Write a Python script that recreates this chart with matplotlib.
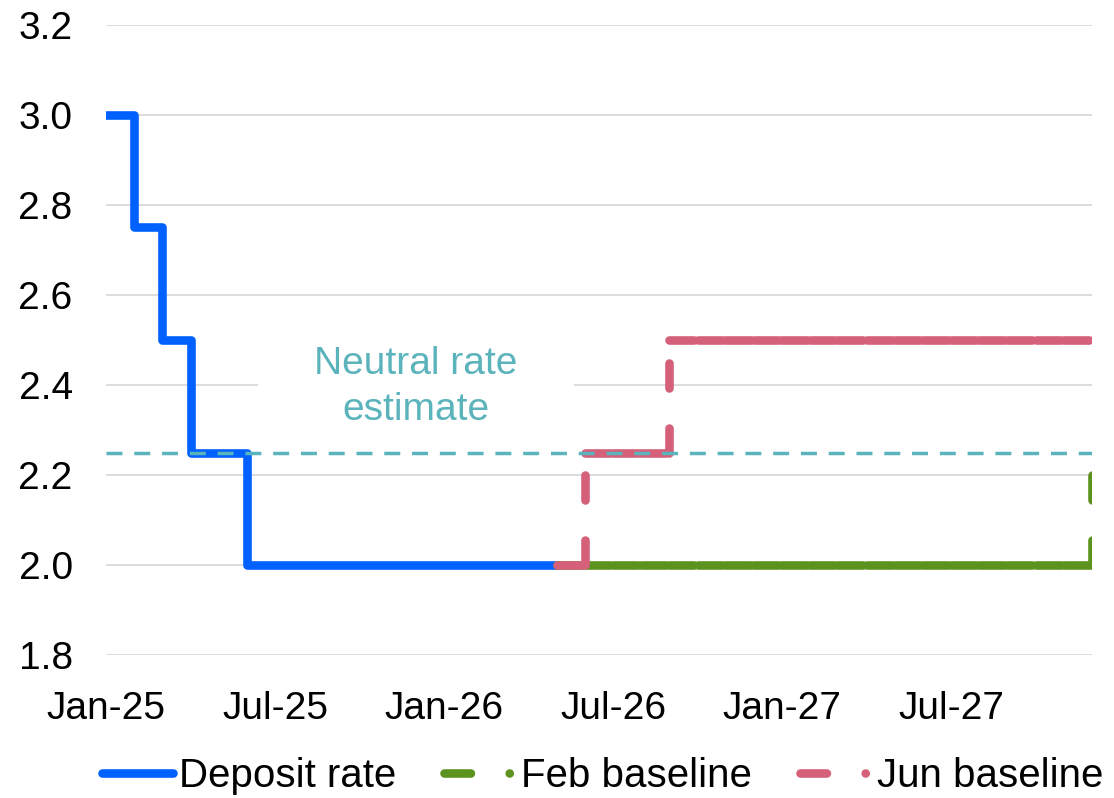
import matplotlib
matplotlib.use('Agg')
import matplotlib.pyplot as plt
from matplotlib.lines import Line2D
from matplotlib.patches import Rectangle
import numpy as np
import pandas as pd

plt.rcParams['font.family'] = ['Liberation Sans', 'DejaVu Sans']

# monthly category axis, Jan-25 .. Dec-27
months = pd.date_range('2025-01-01', periods=36, freq='MS')
month_labels = [d.strftime('%b-%y') for d in months]

# deposit rate, Jan-25 .. May-26
deposit_rate = [3.0, 2.75, 2.5, 2.25, 2.25] + [2.0] * 12
# Feb baseline, May-26 .. Dec-27
feb_start = 16
feb_baseline = [2.0] * 19 + [2.25]
# Jun baseline, May-26 .. Dec-27
jun_start = 16
jun_baseline = [2.0, 2.25, 2.25, 2.25] + [2.5] * 16

neutral_rate = 2.25
neutral_label = 'Neutral rate\nestimate'
neutral_label_pos = (11, 2.395)

yticks = [1.8, 2.0, 2.2, 2.4, 2.6, 2.8, 3.0, 3.2]

BLUE = '#0061FF'
GREEN = '#5C921E'
PINK = '#D5607A'
TEAL = '#5BB3BC'
LW = 6.2
DASH = (2.9, 4.65)
FS = 28

fig = plt.figure(figsize=(11.14, 7.98), dpi=100)
ax = fig.add_axes([0.0952, 0.179, 0.885, 0.79])

x_dep = np.arange(len(deposit_rate))
ax.plot(x_dep, deposit_rate, drawstyle='steps-post', color=BLUE, lw=LW,
        solid_capstyle='round', solid_joinstyle='round', zorder=3)


def dashed_steps(x, y, color, z):
    # excel restarts the dash pattern on every segment
    for i in range(len(x) - 1):
        ax.plot([x[i], x[i + 1]], [y[i], y[i]], color=color, lw=LW,
                dashes=DASH, dash_capstyle='round', zorder=z)
        if y[i + 1] != y[i]:
            ax.plot([x[i + 1], x[i + 1]], [y[i], y[i + 1]], color=color, lw=LW,
                    dashes=DASH, dash_capstyle='round', zorder=z)


dashed_steps(np.arange(feb_start, feb_start + len(feb_baseline)), feb_baseline, GREEN, 3)
dashed_steps(np.arange(jun_start, jun_start + len(jun_baseline)), jun_baseline, PINK, 3.5)

ax.axhline(neutral_rate, color=TEAL, lw=2.5, dashes=(4.6, 3.4), zorder=4)

# white box behind the label hides the gridline
ax.add_patch(Rectangle((neutral_label_pos[0] - 5.6, neutral_label_pos[1] - 0.05), 11.2, 0.1,
                       facecolor='white', edgecolor='none', zorder=1))
ax.text(neutral_label_pos[0], neutral_label_pos[1], neutral_label, ha='center', va='center',
        color=TEAL, fontsize=FS, linespacing=1.35, zorder=2)

ax.set_xlim(0, len(months) - 1)
ax.set_ylim(1.8, 3.2)
ax.set_yticks(yticks)
ax.set_yticklabels([f'{v:.1f}' for v in yticks])
ax.set_xticks(range(0, len(months), 6))
ax.set_xticklabels(month_labels[::6])
ax.tick_params(axis='both', length=0, labelsize=FS)
ax.tick_params(axis='y', pad=24)
ax.tick_params(axis='x', pad=26)
ax.set_axisbelow(True)
ax.yaxis.grid(True, color='#D9D9D9', lw=1.3)
for s in ax.spines.values():
    s.set_visible(False)

handles = [
    Line2D([], [], color=BLUE, lw=LW, solid_capstyle='round'),
    Line2D([], [], color=GREEN, lw=LW, dashes=(3.07, 4.5, 0.01, 30), dash_capstyle='round'),
    Line2D([], [], color=PINK, lw=LW, dashes=(3.07, 4.5, 0.01, 30), dash_capstyle='round'),
]
fig.legend(handles, ['Deposit rate', 'Feb baseline', 'Jun baseline'], loc='center',
           bbox_to_anchor=(0.541, 0.027), ncol=3, frameon=False, fontsize=29,
           handlelength=1.75, handletextpad=0.15, columnspacing=1.2)

fig.savefig('out.png', dpi=100)
